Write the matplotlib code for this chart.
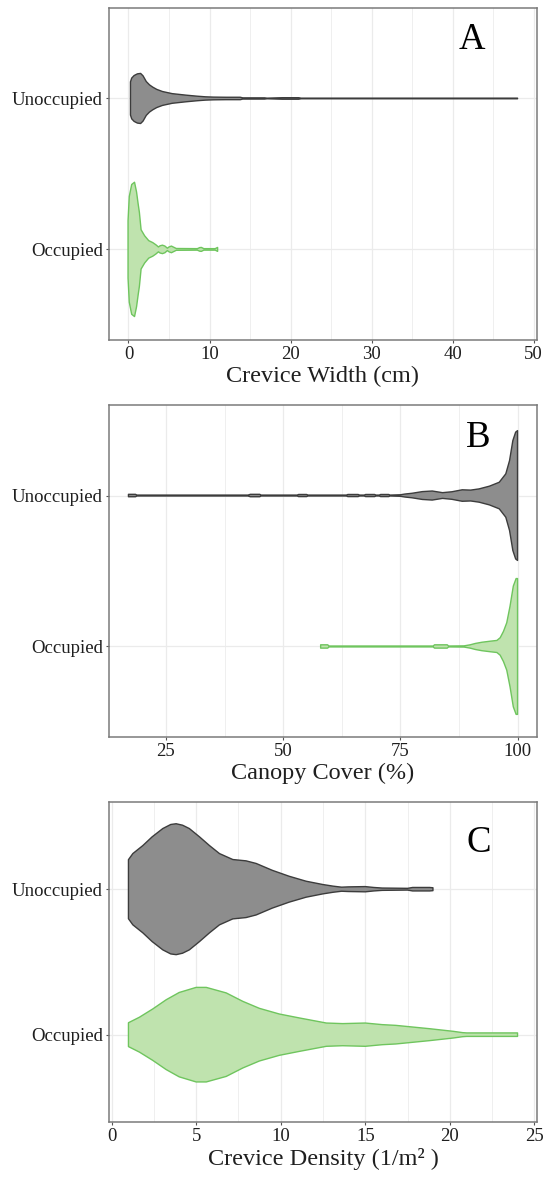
import matplotlib
matplotlib.use("Agg")
import matplotlib.pyplot as plt
from matplotlib.ticker import MultipleLocator

plt.rcParams['font.family'] = ['Liberation Serif', 'DejaVu Serif']

# ---------------- data (violin profiles: value, half-width in category units) -------------
categories = ["Occupied", "Unoccupied"]   # bottom to top

# Panel A: Crevice Width (cm)
a_unocc_x = [0.25, 0.4, 0.7, 1.1, 1.5, 1.8, 2.2, 2.6, 3.0, 3.5, 4.2, 5.4, 7.1, 8.5, 9.5,
             10.5, 12.0, 13.8, 14.1, 16.8, 17.1, 19.0, 21.0, 21.3, 30.0, 48.0]
a_unocc_hw = [0.11, 0.135, 0.152, 0.163, 0.166, 0.15, 0.112, 0.09, 0.075, 0.06, 0.046,
              0.032, 0.022, 0.015, 0.011, 0.009, 0.008, 0.008, 0.004, 0.004, 0.002,
              0.005, 0.005, 0.002, 0.002, 0.002]
a_occ_x = [-0.05, 0.1, 0.4, 0.75, 1.0, 1.2, 1.35, 1.56, 2.0, 2.5, 3.0, 3.4, 3.7, 3.9, 4.2,
           4.5, 4.8, 5.0, 5.3, 5.6, 5.9, 8.5, 8.8, 9.0, 9.3, 10.7, 11.0]
a_occ_hw = [0.19, 0.35, 0.43, 0.445, 0.38, 0.3, 0.245, 0.13, 0.09, 0.058, 0.045, 0.03, 0.016,
            0.024, 0.028, 0.022, 0.008, 0.016, 0.022, 0.014, 0.006, 0.005, 0.012, 0.013,
            0.005, 0.005, 0.013]

# Panel B: Canopy Cover (%)
b_unocc_x = [17.0, 18.5, 18.8, 42.5, 43.0, 45.0, 45.3, 53.0, 53.3, 55.0, 55.3, 63.5, 63.8,
             66.0, 66.3, 67.3, 67.6, 69.5, 69.8, 70.5, 70.8, 72.5, 72.8, 75.0, 76.0, 77.5,
             79.7, 81.8, 84.0, 86.0, 88.2, 90.0, 91.8, 94.0, 96.1, 97.5, 98.3, 99.0, 99.6,
             100.0]
b_unocc_hw = [0.008, 0.008, 0.003, 0.003, 0.008, 0.008, 0.003, 0.003, 0.007, 0.007, 0.003,
              0.003, 0.007, 0.007, 0.003, 0.003, 0.007, 0.007, 0.003, 0.003, 0.007, 0.007,
              0.003, 0.005, 0.01, 0.015, 0.026, 0.03, 0.019, 0.025, 0.038, 0.036, 0.044,
              0.062, 0.088, 0.144, 0.232, 0.364, 0.42, 0.43]
b_occ_x = [58.0, 59.5, 59.8, 82.0, 82.3, 85.0, 85.3, 88.6, 89.9, 91.0, 92.4, 94.2, 95.6,
           96.3, 97.0, 97.7, 98.4, 99.1, 99.7, 100.0]
b_occ_hw = [0.011, 0.011, 0.003, 0.003, 0.011, 0.011, 0.003, 0.004, 0.011, 0.02, 0.028,
            0.035, 0.04, 0.058, 0.10, 0.157, 0.267, 0.40, 0.45, 0.45]

# Panel C: Crevice Density (1/m2)
c_unocc_x = [1.0, 1.26, 1.85, 2.4, 3.03, 3.5, 3.82, 4.2, 4.6, 5.2, 5.79, 6.38, 7.17, 7.95,
             8.55, 9.5, 10.5, 11.5, 12.5, 13.1, 13.6, 14.0, 15.0, 15.5, 16.0, 17.5, 17.8,
             18.8, 19.0]
c_unocc_hw = [0.203, 0.245, 0.30, 0.36, 0.417, 0.445, 0.45, 0.44, 0.417, 0.36, 0.30, 0.245,
              0.204, 0.195, 0.177, 0.13, 0.089, 0.055, 0.032, 0.021, 0.014, 0.016, 0.018,
              0.012, 0.008, 0.006, 0.012, 0.012, 0.01]
c_occ_x = [1.0, 1.65, 2.44, 3.23, 4.0, 5.0, 5.6, 6.78, 7.76, 8.74, 9.92, 11.1, 12.7, 13.66,
           15.0, 16.0, 16.8, 18.8, 20.2, 20.75, 21.0, 23.9, 24.0]
c_occ_hw = [0.082, 0.12, 0.177, 0.24, 0.29, 0.325, 0.325, 0.287, 0.229, 0.181, 0.142,
            0.115, 0.08, 0.076, 0.08, 0.069, 0.064, 0.041, 0.023, 0.014, 0.012, 0.012, 0.012]

panel_letters = ["A", "B", "C"]
x_titles = ["Crevice Width (cm)", "Canopy Cover (%)", "Crevice Density (1/m² )"]
a_ticks = [0, 10, 20, 30, 40, 50]
b_ticks = [25, 50, 75, 100]
c_ticks = [0, 5, 10, 15, 20, 25]

# ---------------- styling -------------
GREY_FILL, GREY_EDGE = "#8d8d8d", "#3c3c3c"
GREEN_FILL, GREEN_EDGE = "#bfe3ae", "#6fc55e"
GRID = "#ebebeb"
TXT = "#1f1f1f"

fig = plt.figure(figsize=(5.45, 11.8), dpi=100)
axes_rects = [
    [0.2, 0.7119, 0.7853, 0.2814],
    [0.2, 0.3754, 0.7853, 0.2814],
    [0.2, 0.0492, 0.7853, 0.2712],
]
panels = [
    (a_unocc_x, a_unocc_hw, a_occ_x, a_occ_hw, a_ticks, (-2.4, 50.4), 5, (0.847, 0.903)),
    (b_unocc_x, b_unocc_hw, b_occ_x, b_occ_hw, b_ticks, (12.85, 104.15), 12.5, (0.863, 0.900)),
    (c_unocc_x, c_unocc_hw, c_occ_x, c_occ_hw, c_ticks, (-0.15, 25.15), 2.5, (0.864, 0.871)),
]


def violin(ax, xs, hws, pos, fc, ec):
    top = [pos + h for h in hws]
    bot = [pos - h for h in hws]
    px = list(xs) + list(xs)[::-1]
    py = top + bot[::-1]
    ax.fill(px, py, facecolor=fc, edgecolor=ec, linewidth=1.0, zorder=3, joinstyle="round")


for i, (rect, p) in enumerate(zip(axes_rects, panels)):
    ux, uh, ox, oh, ticks, xlim, minor, lpos = p
    ax = fig.add_axes(rect)
    ax.set_xlim(*xlim)
    ax.set_ylim(0.4, 2.6)
    ax.set_xticks(ticks)
    ax.xaxis.set_minor_locator(MultipleLocator(minor))
    ax.set_yticks([1, 2])
    ax.set_yticklabels(categories)
    ax.grid(True, which="major", color=GRID, linewidth=0.9, zorder=0)
    ax.grid(True, which="minor", axis="x", color=GRID, linewidth=0.55, zorder=0)
    ax.set_axisbelow(True)
    ax.tick_params(which="minor", length=0)
    ax.tick_params(which="major", length=2.5, width=0.8, color="#555555",
                   labelsize=13.5, labelcolor=TXT, pad=2)
    for s in ax.spines.values():
        s.set_color("#7a7a7a")
        s.set_linewidth(1.1)
    violin(ax, ux, uh, 2, GREY_FILL, GREY_EDGE)
    violin(ax, ox, oh, 1, GREEN_FILL, GREEN_EDGE)
    ax.set_xlabel(x_titles[i], fontsize=17.5, color=TXT, labelpad=2)
    ax.text(lpos[0], lpos[1], panel_letters[i], transform=ax.transAxes,
            fontsize=26.5, ha="center", va="center", color="black")

fig.savefig("out.png", dpi=100)
